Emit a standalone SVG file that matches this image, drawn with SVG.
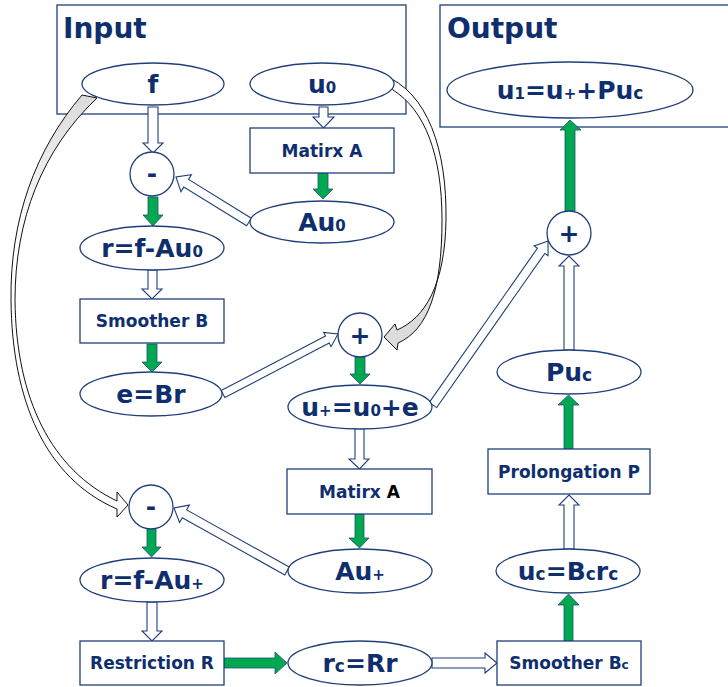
<svg xmlns="http://www.w3.org/2000/svg" width="728" height="687" viewBox="0 0 728 687">
<defs>
<style>
.frame{fill:none;stroke:#1f3f7a;stroke-width:1.3}
.nd{fill:#fff;stroke:#1f3f7a;stroke-width:1.3}
.big{font-family:"DejaVu Sans",Verdana,sans-serif;font-weight:bold;font-size:25px;fill:#0f2e6e;text-anchor:middle}
.box{font-family:"DejaVu Sans",Verdana,sans-serif;font-weight:bold;font-size:17px;fill:#0f2e6e;text-anchor:middle}
.ttl{font-family:"DejaVu Sans",Verdana,sans-serif;font-weight:bold;font-size:28px;fill:#0f2e6e}
.sd{font-size:15px}
.sc{font-size:17px}
.sb{font-size:12px}
.g{fill:#00a94f;stroke:#1f4e79;stroke-width:0.8}
.w{fill:#fff;stroke:#1f3f7a;stroke-width:1.1}
.cv{stroke:#111;stroke-width:1}
</style>
<linearGradient id="gl" gradientUnits="userSpaceOnUse" x1="0" y1="100" x2="0" y2="240">
<stop offset="0" stop-color="#dcdcdc"/><stop offset="1" stop-color="#ffffff"/>
</linearGradient>
<linearGradient id="gr" gradientUnits="userSpaceOnUse" x1="0" y1="200" x2="0" y2="320">
<stop offset="0" stop-color="#ffffff"/><stop offset="1" stop-color="#dcdcdc"/>
</linearGradient>
</defs>
<rect width="728" height="687" fill="#fff"/>

<g id="input-frame">
<rect class="frame" x="57" y="5" width="349" height="109"/>
<text class="ttl" x="63" y="38">Input</text>
</g>
<g id="output-frame">
<rect class="frame" x="440" y="5" width="292" height="122"/>
<text class="ttl" x="447" y="38">Output</text>
</g>

<g id="connectors">
<path class="cv" fill="url(#gl)" d="M82,95 C35,150 10,220 11,300 C12,400 45,478 117,509 L117,517 L128,505 L117,492 L117,501 C52,470 16,400 15,300 C15,220 42,150 97,98 Z"/>
<path class="cv" fill="url(#gr)" d="M383,75 C428,92 447,150 446,220 C445,285 425,318 397,330 L395,324 L384,337 L397,350 L398,343 C428,330 442,290 442,220 C442,155 425,110 393,90 Z"/>

<polygon class="w" points="148,107 158,107 158,143 163,143 153,153 143,143 148,143"/>
<polygon class="w" points="319,107 328,107 328,117 334,117 323.5,128 313,117 319,117"/>
<polygon class="w" transform="translate(249,222) rotate(211.65)" points="0,-4.5 73.8,-4.5 73.8,-10 85.8,0 73.8,10 73.8,4.5 0,4.5"/>
<polygon class="w" points="148,270 157,270 157,289 162,289 152,299 142,289 148,289"/>
<polygon class="w" transform="translate(223,394) rotate(-27.55)" points="0,-4 117.7,-4 117.7,-8 129.7,0 117.7,8 117.7,4 0,4"/>
<polygon class="w" points="355,428 364,428 364,459 369,459 359.5,469 349,459 355,459"/>
<polygon class="w" transform="translate(433,405) rotate(-54.96)" points="0,-4.5 188.3,-4.5 188.3,-8.5 200.3,0 188.3,8.5 188.3,4.5 0,4.5"/>
<polygon class="w" transform="translate(287,571) rotate(209.14)" points="0,-4.5 117.4,-4.5 117.4,-10 129.4,0 117.4,10 117.4,4.5 0,4.5"/>
<polygon class="w" points="147,602 157,602 157,631 162,631 152,641 142,631 147,631"/>
<polygon class="w" points="432,658 485,658 485,653 497,663 485,673 485,668 432,668"/>
<polygon class="w" points="564,549 574,549 574,505 579,505 569,495 559,505 564,505"/>
<polygon class="w" points="564,350 574,350 574,266 579,266 569,256 559,266 564,266"/>

<polygon class="g" points="148,197 158,197 158,215 163,215 153,226 143,215 148,215"/>
<polygon class="g" points="318,173 328,173 328,189 333,189 323,199 313,189 318,189"/>
<polygon class="g" points="147,344 157,344 157,362 162,362 152,372 142,362 147,362"/>
<polygon class="g" points="355,357 365,357 365,374 370,374 360,384 350,374 355,374"/>
<polygon class="g" points="355,514 364,514 364,538 369,538 359.5,548 349,538 355,538"/>
<polygon class="g" points="147,528 156,528 156,547 161,547 151.5,557 142,547 147,547"/>
<polygon class="g" points="224,658 275,658 275,652 287,663 275,674 275,668 224,668"/>
<polygon class="g" points="564,641 573,641 573,605 579,605 568.5,594 558,605 564,605"/>
<polygon class="g" points="564,449 573,449 573,405 579,405 568.5,395 558,405 564,405"/>
<polygon class="g" points="565,211 575,211 575,130 581,130 570,120 560,130 565,130"/>
</g>

<g id="node-f"><ellipse class="nd" cx="153" cy="84" rx="71" ry="21"/><text class="big" x="153" y="93">f</text></g>
<g id="node-u0"><ellipse class="nd" cx="322" cy="84" rx="72" ry="21"/><text class="big" x="322" y="93">u<tspan class="sd">0</tspan></text></g>
<g id="node-matrixA1"><rect class="nd" x="250" y="128" width="144" height="45"/><text class="box" x="322" y="157">Matirx A</text></g>
<g id="node-minus1"><circle class="nd" cx="152" cy="174" r="22"/><text class="big" x="152" y="182">-</text></g>
<g id="node-Au0"><ellipse class="nd" cx="322" cy="222" rx="72" ry="21"/><text class="big" x="322" y="231">Au<tspan class="sd">0</tspan></text></g>
<g id="node-r1"><ellipse class="nd" cx="152" cy="248" rx="72" ry="22"/><text class="big" x="152" y="257">r=f-Au<tspan class="sd">0</tspan></text></g>
<g id="node-smootherB"><rect class="nd" x="80" y="299" width="144" height="44"/><text class="box" x="152" y="327">Smoother B</text></g>
<g id="node-e"><ellipse class="nd" cx="151" cy="394" rx="71" ry="22"/><text class="big" x="151" y="403">e=Br</text></g>
<g id="node-plus1"><circle class="nd" cx="360" cy="335" r="22"/><text class="big" x="360" y="344">+</text></g>
<g id="node-uplus"><ellipse class="nd" cx="360" cy="407" rx="72" ry="22"/><text class="big" x="360" y="416">u<tspan class="sd">+</tspan>=u<tspan class="sd">0</tspan>+e</text></g>
<g id="node-matrixA2"><rect class="nd" x="287" y="469" width="145" height="45"/><text class="box" x="359.5" y="498">Matirx <tspan fill="#000">A</tspan></text></g>
<g id="node-Auplus"><ellipse class="nd" cx="360" cy="571" rx="72" ry="22"/><text class="big" x="360" y="580">Au<tspan class="sd">+</tspan></text></g>
<g id="node-minus2"><circle class="nd" cx="151" cy="507" r="22"/><text class="big" x="151" y="515">-</text></g>
<g id="node-r2"><ellipse class="nd" cx="152" cy="580" rx="72" ry="22"/><text class="big" x="152" y="589">r=f-Au<tspan class="sd">+</tspan></text></g>
<g id="node-restriction"><rect class="nd" x="80" y="641" width="144" height="44"/><text class="box" x="152" y="669">Restriction R</text></g>
<g id="node-rc"><ellipse class="nd" cx="360" cy="663" rx="72" ry="22"/><text class="big" x="360" y="672">r<tspan class="sc">c</tspan>=Rr</text></g>
<g id="node-smootherBc"><rect class="nd" x="497" y="641" width="144" height="44"/><text class="box" x="569" y="669">Smoother B<tspan class="sb">c</tspan></text></g>
<g id="node-uc"><ellipse class="nd" cx="568" cy="571" rx="72" ry="22"/><text class="big" x="568" y="580">u<tspan class="sc">c</tspan>=B<tspan class="sc">c</tspan>r<tspan class="sc">c</tspan></text></g>
<g id="node-prolongation"><rect class="nd" x="488" y="449" width="162" height="45"/><text class="box" x="569" y="478">Prolongation P</text></g>
<g id="node-Puc"><ellipse class="nd" cx="569" cy="372" rx="72" ry="22"/><text class="big" x="569" y="381">Pu<tspan class="sc">c</tspan></text></g>
<g id="node-plus2"><circle class="nd" cx="569" cy="233" r="22"/><text class="big" x="569" y="242">+</text></g>
<g id="node-u1"><ellipse class="nd" cx="570" cy="90" rx="123" ry="28"/><text class="big" x="570" y="99">u<tspan class="sd">1</tspan>=u<tspan class="sd">+</tspan>+Pu<tspan class="sc">c</tspan></text></g>
</svg>
